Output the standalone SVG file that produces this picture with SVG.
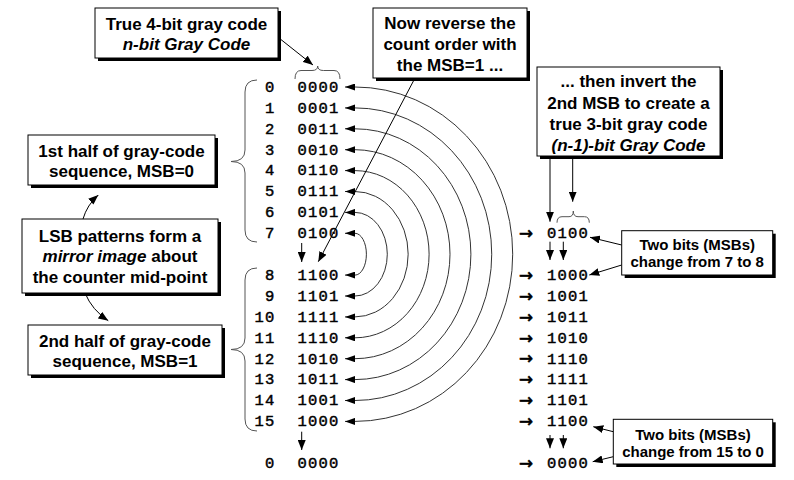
<svg xmlns="http://www.w3.org/2000/svg" width="794" height="480" viewBox="0 0 794 480">
<style>
.box{fill:#fff;stroke:#000;stroke-width:1}
.sh{fill:#000}
.t17{font-family:"Liberation Sans",Arial,sans-serif;font-size:17px;font-weight:bold;text-anchor:middle;fill:#000}
.t15{font-family:"Liberation Sans",Arial,sans-serif;font-size:15px;font-weight:bold;text-anchor:middle;fill:#000}
.it{font-style:italic}
.mono{font-family:"Liberation Mono","Courier New",monospace;font-size:15.5px;letter-spacing:1.2px;fill:#000;stroke:#000;stroke-width:0.45}
.arr{font-family:"DejaVu Sans",sans-serif;font-size:17px;fill:#000;stroke:#000;stroke-width:0.6}
.con{fill:none;stroke:#000;stroke-width:1}
.arc{fill:none;stroke:#333;stroke-width:1}
.brace{fill:none;stroke:#555;stroke-width:1}
</style>
<defs>
<marker id="ah" viewBox="0 0 10 8" refX="10" refY="4" markerWidth="10" markerHeight="8" markerUnits="userSpaceOnUse" orient="auto-start-reverse"><path d="M0,0 L10,4 L0,8 z" fill="#000"/></marker>
<marker id="ahs" viewBox="0 0 10 7" refX="10" refY="3.5" markerWidth="10" markerHeight="7" markerUnits="userSpaceOnUse" orient="auto-start-reverse"><path d="M0,0 L10,3.5 L0,7 z" fill="#000"/></marker>
</defs>

<g id="connectors">
<g id="arcs">
<path class="arc" marker-start="url(#ahs)" marker-end="url(#ahs)" d="M345,233.3 L355,233.3 A11.4,20.9 0 0 1 355,275.1 L345,275.1"/>
<path class="arc" marker-start="url(#ahs)" marker-end="url(#ahs)" d="M345,212.4 L355,212.4 A32.3,41.8 0 0 1 355,296 L345,296"/>
<path class="arc" marker-start="url(#ahs)" marker-end="url(#ahs)" d="M345,191.5 L355,191.5 A53.2,62.7 0 0 1 355,316.9 L345,316.9"/>
<path class="arc" marker-start="url(#ahs)" marker-end="url(#ahs)" d="M345,170.6 L355,170.6 A74.1,83.6 0 0 1 355,337.8 L345,337.8"/>
<path class="arc" marker-start="url(#ahs)" marker-end="url(#ahs)" d="M345,149.7 L355,149.7 A95,104.5 0 0 1 355,358.7 L345,358.7"/>
<path class="arc" marker-start="url(#ahs)" marker-end="url(#ahs)" d="M345,128.8 L355,128.8 A115.9,125.4 0 0 1 355,379.6 L345,379.6"/>
<path class="arc" marker-start="url(#ahs)" marker-end="url(#ahs)" d="M345,107.9 L355,107.9 A136.8,146.3 0 0 1 355,400.5 L345,400.5"/>
<path class="arc" marker-start="url(#ahs)" marker-end="url(#ahs)" d="M345,87 L355,87 A157.7,167.2 0 0 1 355,421.4 L345,421.4"/>
</g>
<path class="con" marker-end="url(#ah)" d="M279,38 L313,65"/>
<path class="con" marker-end="url(#ah)" d="M415,78 L318.3,261.7"/>
<path class="con" marker-end="url(#ah)" d="M301.7,243 L301.7,262"/>
<path class="con" marker-end="url(#ah)" d="M301.7,431.7 L301.7,450"/>
<path class="con" marker-end="url(#ah)" d="M550,156 L550,221.7"/>
<path class="con" marker-end="url(#ah)" d="M572.7,156 L572.7,201.7"/>
<path class="con" marker-end="url(#ah)" d="M550,241.7 L550,260"/>
<path class="con" marker-end="url(#ah)" d="M563.3,241.7 L563.3,260"/>
<path class="con" marker-end="url(#ah)" d="M550,435 L550,448.3"/>
<path class="con" marker-end="url(#ah)" d="M563.3,435 L563.3,448.3"/>
<path class="con" marker-end="url(#ah)" d="M621.7,245 L590,237.3"/>
<path class="con" marker-end="url(#ah)" d="M621.7,265 L589.3,275"/>
<path class="con" marker-end="url(#ah)" d="M613.3,431.7 L593.3,426.7"/>
<path class="con" marker-end="url(#ah)" d="M613.3,456.7 L592.7,461.7"/>
<path class="con" marker-end="url(#ah)" d="M83,219 Q87,205 98.3,195"/>
<path class="con" marker-end="url(#ah)" d="M85,293 Q92,310 108.3,320.7"/>
</g>

<g id="braces">
<path class="brace" d="M295,79 Q295,70.5 301,70.5 L312,70.5 Q317.7,70.5 317.7,66 Q317.7,70.5 323.4,70.5 L334,70.5 Q340,70.5 340,79"/>
<path class="brace" d="M557,222.7 Q557,216.7 562,216.7 L569,216.7 Q573.3,216.7 573.3,211 Q573.3,216.7 578,216.7 L584.5,216.7 Q589.3,216.7 589.3,222.7"/>
<path class="brace" d="M257,80 Q245,80 245,92 L245,150 Q245,161.5 231,161.5 Q245,161.5 245,173 L245,230 Q245,242 257,242"/>
<path class="brace" d="M257,268 Q245,268 245,280 L245,338 Q245,349.5 231,349.5 Q245,349.5 245,361 L245,419 Q245,431 257,431"/>
</g>

<g id="left-table">
<text class="mono" x="265" y="91.8">0</text><text class="mono" x="297.5" y="91.8">0000</text>
<text class="mono" x="265" y="112.7">1</text><text class="mono" x="297.5" y="112.7">0001</text>
<text class="mono" x="265" y="133.6">2</text><text class="mono" x="297.5" y="133.6">0011</text>
<text class="mono" x="265" y="154.5">3</text><text class="mono" x="297.5" y="154.5">0010</text>
<text class="mono" x="265" y="175.4">4</text><text class="mono" x="297.5" y="175.4">0110</text>
<text class="mono" x="265" y="196.3">5</text><text class="mono" x="297.5" y="196.3">0111</text>
<text class="mono" x="265" y="217.2">6</text><text class="mono" x="297.5" y="217.2">0101</text>
<text class="mono" x="265" y="238.1">7</text><text class="mono" x="297.5" y="238.1">0100</text>
<text class="mono" x="265" y="279.9">8</text><text class="mono" x="297.5" y="279.9">1100</text>
<text class="mono" x="265" y="300.8">9</text><text class="mono" x="297.5" y="300.8">1101</text>
<text class="mono" x="254.5" y="321.7">10</text><text class="mono" x="297.5" y="321.7">1111</text>
<text class="mono" x="254.5" y="342.6">11</text><text class="mono" x="297.5" y="342.6">1110</text>
<text class="mono" x="254.5" y="363.5">12</text><text class="mono" x="297.5" y="363.5">1010</text>
<text class="mono" x="254.5" y="384.4">13</text><text class="mono" x="297.5" y="384.4">1011</text>
<text class="mono" x="254.5" y="405.3">14</text><text class="mono" x="297.5" y="405.3">1001</text>
<text class="mono" x="254.5" y="426.2">15</text><text class="mono" x="297.5" y="426.2">1000</text>
<text class="mono" x="265" y="468">0</text><text class="mono" x="297.5" y="468">0000</text>
</g>

<g id="right-table">
<text class="arr" x="519" y="239" textLength="14" lengthAdjust="spacingAndGlyphs">→</text><text class="mono" x="547" y="238.1">0100</text>
<text class="arr" x="519" y="280.8" textLength="14" lengthAdjust="spacingAndGlyphs">→</text><text class="mono" x="547" y="279.9">1000</text>
<text class="arr" x="519" y="301.7" textLength="14" lengthAdjust="spacingAndGlyphs">→</text><text class="mono" x="547" y="300.8">1001</text>
<text class="arr" x="519" y="322.6" textLength="14" lengthAdjust="spacingAndGlyphs">→</text><text class="mono" x="547" y="321.7">1011</text>
<text class="arr" x="519" y="343.5" textLength="14" lengthAdjust="spacingAndGlyphs">→</text><text class="mono" x="547" y="342.6">1010</text>
<text class="arr" x="519" y="364.4" textLength="14" lengthAdjust="spacingAndGlyphs">→</text><text class="mono" x="547" y="363.5">1110</text>
<text class="arr" x="519" y="385.3" textLength="14" lengthAdjust="spacingAndGlyphs">→</text><text class="mono" x="547" y="384.4">1111</text>
<text class="arr" x="519" y="406.2" textLength="14" lengthAdjust="spacingAndGlyphs">→</text><text class="mono" x="547" y="405.3">1101</text>
<text class="arr" x="519" y="427.1" textLength="14" lengthAdjust="spacingAndGlyphs">→</text><text class="mono" x="547" y="426.2">1100</text>
<text class="arr" x="519" y="468.9" textLength="14" lengthAdjust="spacingAndGlyphs">→</text><text class="mono" x="547" y="468">0000</text>
</g>

<g id="box-true4bit">
<rect class="sh" x="98" y="11" width="183" height="50"/>
<rect class="box" x="95" y="8" width="183" height="50"/>
<text class="t17" x="186.5" y="30">True 4-bit gray code</text>
<text class="t17 it" x="186.5" y="50">n-bit Gray Code</text>
</g>

<g id="box-reverse">
<rect class="sh" x="376" y="11" width="154" height="70"/>
<rect class="box" x="373" y="8" width="154" height="70"/>
<text class="t17" x="450" y="29.3">Now reverse the</text>
<text class="t17" x="450" y="50">count order with</text>
<text class="t17" x="450" y="70.5">the MSB=1 ...</text>
</g>

<g id="box-invert">
<rect class="sh" x="540" y="70" width="183" height="89"/>
<rect class="box" x="537" y="67" width="183" height="89"/>
<text class="t17" x="628.5" y="87.3">... then invert the</text>
<text class="t17" x="628.5" y="109">2nd MSB to create a</text>
<text class="t17" x="628.5" y="130.3">true 3-bit gray code</text>
<text class="t17 it" x="628.5" y="151">(n-1)-bit Gray Code</text>
</g>

<g id="box-first-half">
<rect class="sh" x="31" y="138" width="187" height="50"/>
<rect class="box" x="28" y="135" width="187" height="50"/>
<text class="t17" x="121.5" y="156.7">1st half of gray-code</text>
<text class="t17" x="121.5" y="177.3">sequence, MSB=0</text>
</g>

<g id="box-lsb">
<rect class="sh" x="25" y="222" width="196" height="74"/>
<rect class="box" x="22" y="219" width="196" height="74"/>
<text class="t17" x="120" y="241.7">LSB patterns form a</text>
<text class="t17" x="120" y="262"><tspan class="it">mirror image</tspan> about</text>
<text class="t17" x="120" y="282.7">the counter mid-point</text>
</g>

<g id="box-second-half">
<rect class="sh" x="31" y="328" width="194" height="50"/>
<rect class="box" x="28" y="325" width="194" height="50"/>
<text class="t17" x="125" y="346.7">2nd half of gray-code</text>
<text class="t17" x="125" y="367">sequence, MSB=1</text>
</g>

<g id="box-7to8">
<rect class="sh" x="624.7" y="233.7" width="151" height="44.3"/>
<rect class="box" x="621.7" y="230.7" width="151" height="44.3"/>
<text class="t15" x="697.2" y="250">Two bits (MSBs)</text>
<text class="t15" x="697.2" y="266.7">change from 7 to 8</text>
</g>

<g id="box-15to0">
<rect class="sh" x="616.3" y="422.3" width="159.4" height="44.7"/>
<rect class="box" x="613.3" y="419.3" width="159.4" height="44.7"/>
<text class="t15" x="693" y="440">Two bits (MSBs)</text>
<text class="t15" x="693" y="457.3">change from 15 to 0</text>
</g>
</svg>
